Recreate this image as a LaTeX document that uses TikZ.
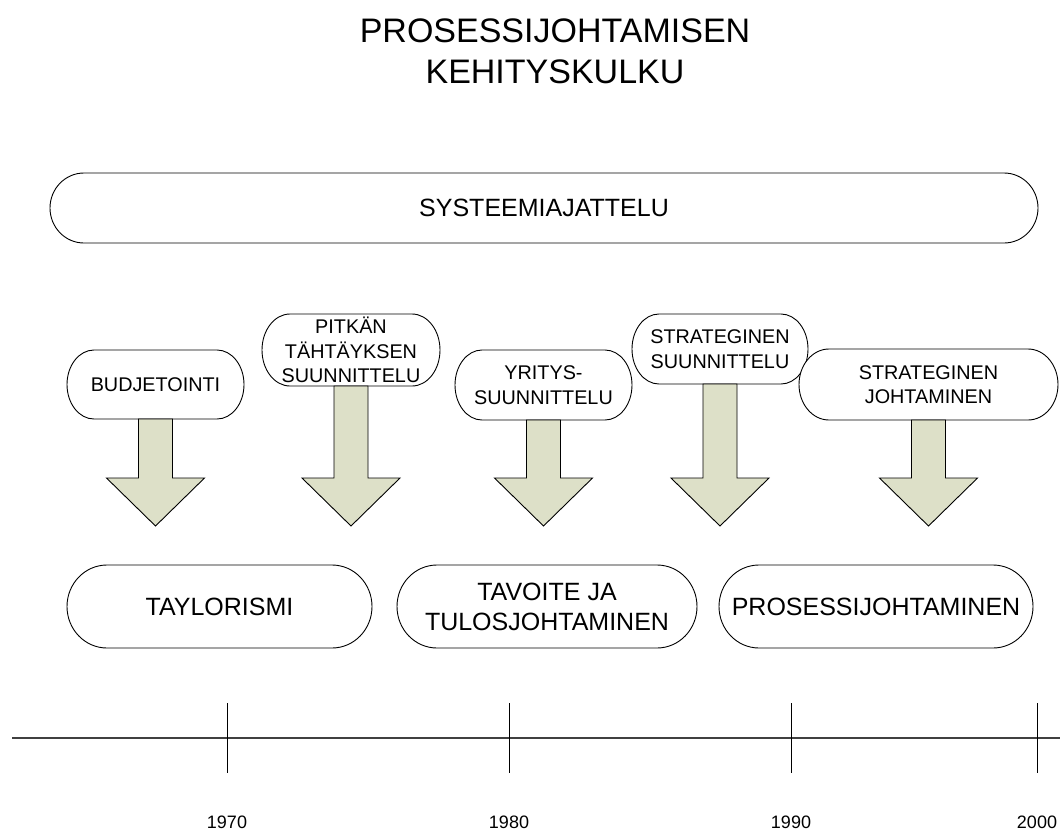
\documentclass[tikz,border=0pt]{standalone}
\usepackage{fontspec}
\setmainfont{Liberation Sans}
\definecolor{arrfill}{RGB}{221,224,200}
\newcommand\termbox[6]{%
  \node[shapebox, minimum width=#4pt, minimum height=#5pt] (#1) at (#2,-#3) {};
  \draw[term] ([xshift=#6pt]#1.north west) -- ([xshift=-#6pt]#1.north east)
    arc[start angle=90, end angle=-90, x radius=#6pt, y radius={#5pt/2}]
    -- ([xshift=#6pt]#1.south west)
    arc[start angle=270, end angle=90, x radius=#6pt, y radius={#5pt/2}] -- cycle;
}
\newcommand\blockarrow[1]{%
  \draw[blockarr] ([xshift=-17pt]#1.south) -- ([xshift=-17pt]#1.south |- 0,-478)
    -- ([xshift=-49pt]#1.south |- 0,-478) -- (#1.south |- 0,-526)
    -- ([xshift=49pt]#1.south |- 0,-478) -- ([xshift=17pt]#1.south |- 0,-478)
    -- ([xshift=17pt]#1.south) -- cycle;
}
\begin{document}
\begin{tikzpicture}[x=1pt,y=1pt,
  shapebox/.style={draw=none, inner sep=0pt, outer sep=0pt, rectangle},
  term/.style={draw=black, line width=0.9pt, fill=white},
  blockarr/.style={draw=black, fill=arrfill, line width=0.9pt},
  lbl/.style={align=center, inner sep=0pt},
  small/.style={lbl, font=\fontsize{19.8}{24.5}\selectfont},
  big/.style={lbl, font=\fontsize{25}{30}\selectfont},
  year/.style={lbl, font=\fontsize{18}{22}\selectfont},
  tick/.style={draw=black, line width=0.8pt},
  axis/.style={draw=black!75, line width=1.4pt}]
\useasboundingbox[fill=white] (0,0) rectangle (1060,-833);

% title
\node[lbl, font=\fontsize{34}{41}\selectfont] (title) at (555,-51) {PROSESSIJOHTAMISEN\\KEHITYSKULKU};

% systems thinking band
\termbox{sys}{544}{208}{988}{70}{34}
\node[lbl, font=\fontsize{25}{30}\selectfont] (systxt) at (sys.center) {SYSTEEMIAJATTELU};

% planning approaches and their arrows
\termbox{b1}{155.5}{384.5}{177}{69}{27}
\termbox{b2}{351}{350}{178}{72}{28}
\termbox{b3}{543.5}{385}{177}{70}{27}
\termbox{b4}{720}{349}{176}{70}{27}
\termbox{b5}{928.5}{384.5}{259}{71}{30}
\blockarrow{b1}
\blockarrow{b2}
\blockarrow{b3}
\blockarrow{b4}
\blockarrow{b5}
\node[small] (b1t) at (b1.center) {BUDJETOINTI};
\node[small] (b2t) at (b2.center) {PITKÄN\\TÄHTÄYKSEN\\SUUNNITTELU};
\node[small] (b3t) at (b3.center) {YRITYS-\\SUUNNITTELU};
\node[small] (b4t) at (b4.center) {STRATEGINEN\\SUUNNITTELU};
\node[small] (b5t) at (b5.center) {STRATEGINEN\\JOHTAMINEN};

% management eras
\termbox{t1}{219.5}{606.5}{305}{83}{40}
\termbox{t2}{547}{606.5}{300}{83}{40}
\termbox{t3}{876}{606.5}{314}{83}{40}
\node[big] (t1t) at (t1.center) {TAYLORISMI};
\node[big] (t2t) at (t2.center) {TAVOITE JA\\TULOSJOHTAMINEN};
\node[big] (t3t) at (t3.center) {PROSESSIJOHTAMINEN};

% timeline
\coordinate (ax0) at (12,-738);
\coordinate (ax1) at (1060,-738);
\draw[axis] (ax0) -- (ax1);
\foreach \x/\yr in {227/1970, 509/1980, 791/1990, 1037/2000}{
  \coordinate (tk\yr a) at (\x,-703);
  \coordinate (tk\yr b) at (\x,-773);
  \draw[tick] (tk\yr a) -- (tk\yr b);
  \node[year] (y\yr) at (\x,-822) {\yr};
}
\end{tikzpicture}
\end{document}
